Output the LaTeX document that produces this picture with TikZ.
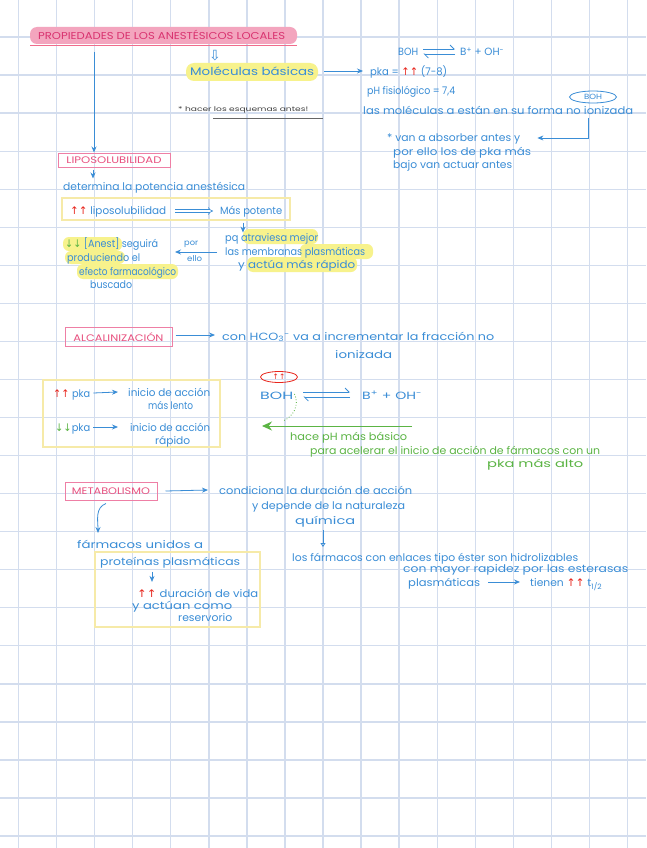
\documentclass[tikz,border=0pt]{standalone}
\usepackage{fontspec}
\setmainfont{Poppins}
\newfontfamily\symf{DejaVu Sans}
\usetikzlibrary{arrows.meta,shapes.geometric}
\definecolor{gridc}{HTML}{D3DDEE}
\definecolor{bluec}{HTML}{3A8DD6}
\definecolor{pinkt}{HTML}{E8507F}
\definecolor{pinkh}{HTML}{F3A5BE}
\definecolor{pinkb}{HTML}{EE7FA5}
\definecolor{titlet}{HTML}{D93370}
\definecolor{hly}{HTML}{F7F28C}
\definecolor{yelb}{HTML}{F6EAA8}
\definecolor{redc}{HTML}{E8251C}
\definecolor{greenc}{HTML}{5BB444}
\newcommand{\hw}[2]{\resizebox{#1pt}{\height}{#2}}
\newcommand{\upup}{{\color{redc}\symf ↑↑}}
\newcommand{\dndn}{{\color{greenc}\symf ↓↓}}
\tikzset{
 bt/.style={anchor=base west, inner sep=0pt, text=bluec, font=\fontsize{10.5}{12}\selectfont},
 gt/.style={bt, text=greenc},
 pbox/.style={draw=pinkb, line width=1pt, inner sep=0pt, text=pinkt, font=\fontsize{9.5}{11}\selectfont},
 ybox/.style={draw=yelb, line width=1.2pt, inner sep=0pt},
 hl/.style={fill=hly, rounded corners=6pt},
 arr/.style={draw=bluec, line width=0.8pt, -{Stealth[length=6pt,width=5pt]}},
 harp/.style={draw=bluec, line width=0.8pt, -{Straight Barb[left,length=4pt]}},
 dbl/.style={draw=bluec, double, double distance=2pt, line width=0.6pt, -{Implies}},
 garr/.style={draw=greenc, line width=1pt, -{Stealth[length=10pt,width=9pt]}},
}
\begin{document}
\begin{tikzpicture}[x=1pt,y=-1pt]
\fill[white] (0,0) rectangle (646,848);
\useasboundingbox (0,0) rectangle (646,848);
% grid
\foreach \k in {0,...,16} \draw[gridc, line width=1.3pt] ({18.6+38.05*\k},0) -- ({18.6+38.05*\k},848);
\foreach \k in {0,...,21} \draw[gridc, line width=1.3pt] (0,{37+38.05*\k}) -- (646,{37+38.05*\k});
\coordinate (x93) at (93,0);
\coordinate (x94) at (94,0);
\coordinate (x243) at (243,0);
\coordinate (x152) at (152,0);
% title
\fill[pinkh, rounded corners=7pt] (30,27) rectangle (297,44);
\node[anchor=base west, inner sep=0pt, text=titlet, font=\fontsize{10}{12}\selectfont] (title) at (38,40) {\hw{247}{PROPIEDADES DE LOS ANESTÉSICOS LOCALES}};
\draw[pinkb!85!red, line width=1pt] (30,45.5) -- (297,45.5);
% moleculas basicas
\node[inner sep=0pt, text=bluec, font=\symf\fontsize{14}{14}\selectfont] (hollow) at (215,56) {⇩};
\fill[hly, rounded corners=8pt] (186,63) rectangle (318,81);
\node[bt, font=\fontsize{11}{12}\selectfont] (mol) at (190,76) {\hw{124}{Moléculas básicas}};
\node[bt] (pka) at (370,76) {\hw{77}{pka = \upup\ (7-8)}};
\draw[arr] ([xshift=10pt,yshift=5pt]mol.base east) -- ([xshift=-7pt,yshift=5pt]pka.base west);
% BOH top
\node[bt] (boh1) at (398,56) {\hw{20}{BOH}};
\node[bt] (bp1) at (460,56) {\hw{44}{B\textsuperscript{+} + OH\textsuperscript{-}}};
\draw[harp] ([xshift=5pt,yshift=7pt]boh1.base east) -- ([xshift=-5pt,yshift=7pt]bp1.base west);
\draw[harp] ([xshift=-5pt,yshift=2pt]bp1.base west) -- ([xshift=5pt,yshift=2pt]boh1.base east);
\node[bt] (phf) at (367,95) {\hw{88}{pH fisiológico = 7,4}};
\node[bt] (lasmol) at (363,114) {\hw{270}{las moléculas a están en su forma no ionizada}};
\node[draw=bluec, ellipse, line width=0.8pt, minimum width=47pt, minimum height=12pt, inner sep=0pt, text=bluec, font=\fontsize{7.5}{8}\selectfont] (bohov) at (593,97) {\hw{18}{BOH}};
\node[bt] (van1) at (387,141) {\hw{133}{* van a absorber antes y}};
\node[bt] (van2) at (393,155) {\hw{138}{por ello los de pka más}};
\node[bt] (van3) at (393,168) {\hw{119}{bajo van actuar antes}};
\coordinate (c1) at (588,118);
\draw[arr] (c1) |- ([xshift=17pt,yshift=3pt]van1.base east);
% note
\node[anchor=base west, inner sep=0pt, text=black!75, font=\fontsize{6.5}{7}\selectfont] (note) at (178,111) {\hw{130}{* hacer los esquemas antes!}};
\draw[black!60, line width=0.6pt] (213,118) -- (323,118);
% liposolubilidad
\node[pbox, minimum width=112pt, minimum height=14pt] (lipo) at (114,160) {\hw{95}{LIPOSOLUBILIDAD}};
\coordinate (ta) at (94,52);
\draw[arr] (ta) -- (lipo.north -| x94);
\node[bt] (det) at (63,190) {\hw{182}{determina la potencia anestésica}};
\draw[arr] ([yshift=-2pt]lipo.south -| x93) -- ++(0,9);
\node[ybox, minimum width=228pt, minimum height=22pt] (yb1) at (176,209) {};
\node[bt] (lipo2) at (70,214) {\hw{96}{\upup\ liposolubilidad}};
\node[bt] (pot) at (220,214) {\hw{62}{Más potente}};
\draw[dbl] ([xshift=9pt,yshift=3pt]lipo2.base east) -- ([xshift=-7pt,yshift=3pt]pot.base west);
\draw[arr] ([yshift=-2pt]yb1.south -| x243) -- ++(0,10);
\fill[hl] (243,229) rectangle (318,244);
\fill[hl] (300,244) rectangle (373,259);
\fill[hl] (247,257) rectangle (357,272);
\node[bt] (pq1) at (225,241) {\hw{93}{pq atraviesa mejor}};
\node[bt] (pq2) at (225,255) {\hw{140}{las membranas plasmáticas}};
\node[bt] (pq3) at (238,268) {\hw{117}{y actúa más rápido}};
\draw[arr] ([xshift=-8pt,yshift=3pt]pq2.base west) -- ++(-42,0);
\node[bt, font=\fontsize{8}{9}\selectfont] (por) at (184,245) {\hw{14}{por}};
\node[bt, font=\fontsize{8}{9}\selectfont] (ello) at (187,261) {\hw{15}{ello}};
\fill[hl] (63,237) rectangle (122,251);
\fill[hl] (65,251) rectangle (125,264);
\fill[hl] (77,264) rectangle (178,279);
\node[bt] (seg) at (65,247) {\hw{93}{\dndn\ [Anest] seguirá}};
\node[bt] (prod) at (67,261) {\hw{73}{produciendo el}};
\node[bt] (efe) at (79,275) {\hw{97}{efecto farmacológico}};
\node[bt] (bus) at (90,288) {\hw{42}{buscado}};
% alcalinizacion
\node[pbox, minimum width=107pt, minimum height=19pt] (alc) at (118.5,337) {\hw{90}{ALCALINIZACIÓN}};
\node[bt] (hco) at (222,340) {\hw{272}{con HCO\textsubscript{3}\textsuperscript{-} va a incrementar la fracción no}};
\node[bt] (ion2) at (335,358) {\hw{57}{ionizada}};
\draw[arr] ([xshift=3pt,yshift=2pt]alc.east) -- ([xshift=-7pt,yshift=5pt]hco.base west);
\node[ybox, minimum width=177pt, minimum height=67pt] (yb2) at (131.5,413.5) {};
\node[bt] (pk1) at (53,397) {\hw{37}{\upup\ pka}};
\node[bt] (ini1) at (128,396) {\hw{82}{inicio de acción}};
\node[bt] (len) at (148,409) {\hw{45}{más lento}};
\draw[arr] ([xshift=3pt,yshift=4pt]pk1.base east) -- ([xshift=-10pt,yshift=4pt]ini1.base west);
\node[bt] (pk2) at (55,431) {\hw{35}{\dndn pka}};
\node[bt] (ini2) at (130,431) {\hw{80}{inicio de acción}};
\node[bt] (rap) at (155,444) {\hw{35}{rápido}};
\draw[arr] ([xshift=3pt,yshift=4pt]pk2.base east) -- ([xshift=-12pt,yshift=4pt]ini2.base west);
\node[draw=redc, ellipse, line width=0.8pt, minimum width=37pt, minimum height=11pt, inner sep=0pt, font=\fontsize{7.5}{8}\selectfont] (ov2) at (279,377) {\upup};
\node[bt] (boh2) at (260,399) {\hw{33}{BOH}};
\node[bt] (bp2) at (362,399) {\hw{60}{B\textsuperscript{+} + OH\textsuperscript{-}}};
\draw[harp] ([xshift=10pt,yshift=7pt]boh2.base east) -- ([xshift=-12pt,yshift=7pt]bp2.base west);
\draw[harp] ([xshift=-12pt,yshift=2pt]bp2.base west) -- ([xshift=10pt,yshift=2pt]boh2.base east);
\coordinate (gA) at (412,426);
\coordinate (gB) at (262,426);
\draw[garr] (gA) -- (gB);
\draw[greenc, dotted, line width=0.8pt] ([xshift=1pt,yshift=5pt]boh2.base east) .. controls (300,405) and (293,417) .. (283,421);
\node[gt] (hace) at (290,440) {\hw{117}{hace pH más básico}};
\node[gt] (para) at (310,454) {\hw{290}{para acelerar el inicio de acción de fármacos con un}};
\node[gt] (pkalto) at (487,467) {\hw{96}{pka más alto}};
% metabolismo
\node[pbox, minimum width=92pt, minimum height=18pt] (meta) at (111,491) {\hw{78}{METABOLISMO}};
\node[bt] (cond) at (219,494) {\hw{193}{condiciona la duración de acción}};
\node[bt] (dep) at (252,509) {\hw{153}{y depende de la naturaleza}};
\node[bt] (qui) at (295,524) {\hw{60}{química}};
\draw[arr] ([xshift=8pt]meta.east) -- ([xshift=-11pt,yshift=4pt]cond.base west);
\node[bt] (farm) at (77,548) {\hw{126}{fármacos unidos a}};
\coordinate (fa) at (98,533);
\draw[arr] ([xshift=-5pt,yshift=-3pt]meta.south) to[out=200,in=90] (fa);
\node[ybox, minimum width=165pt, minimum height=75pt] (yb3) at (177.5,589.5) {};
\node[bt] (prot) at (100,565) {\hw{140}{proteínas plasmáticas}};
\draw[arr] ([yshift=-4pt]prot.south -| x152) -- ++(0,10);
\node[bt] (dur) at (137,597) {\hw{121}{\upup\ duración de vida}};
\node[bt] (act) at (132,609) {\hw{100}{y actúan como}};
\node[bt] (res) at (178,621) {\hw{54}{reservorio}};
\coordinate (q1) at (323,530);
\coordinate (q2) at (323,547);
\draw[draw=bluec, line width=0.8pt, -{Triangle[open,length=4pt,width=5pt]}] (q1) -- (q2);
\node[bt] (los) at (292,561) {\hw{286}{los fármacos con enlaces tipo éster son hidrolizables}};
\node[bt] (may) at (403,572) {\hw{225}{con mayor rapidez por las esterasas}};
\node[bt] (plas) at (408,586) {\hw{72}{plasmáticas}};
\node[bt] (tien) at (530,586) {\hw{72}{tienen \upup\ t\textsubscript{1/2}}};
\draw[arr] ([xshift=8pt,yshift=4pt]plas.base east) -- ([xshift=-10pt,yshift=4pt]tien.base west);
\end{tikzpicture}
\end{document}
